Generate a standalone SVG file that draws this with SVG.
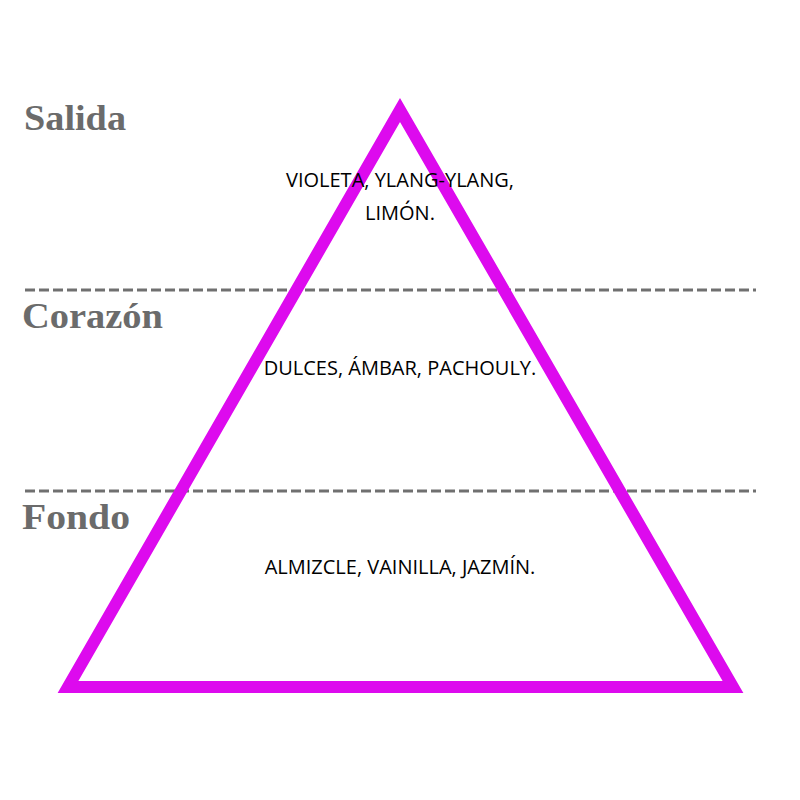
<svg xmlns="http://www.w3.org/2000/svg" width="800" height="800" viewBox="0 0 800 800">
<style>
.lbl{font-family:"Liberation Serif",serif;font-weight:bold;font-size:36px;fill:#6b6b6b}
.txt{font-family:"Open Sans","Noto Sans",sans-serif;font-size:20px;fill:#000;text-anchor:middle}
.dash{stroke:#707070;stroke-width:3;stroke-dasharray:10 4;fill:none}
</style>
<rect width="800" height="800" fill="#fff"/>
<g id="connectors">
<line class="dash" x1="25" y1="290" x2="756" y2="290"/>
<line class="dash" x1="25" y1="491" x2="756" y2="491"/>
</g>
<g id="pyramid">
<polygon points="400,110 68,687 733,687" fill="none" stroke="#dd0aee" stroke-width="12" stroke-linejoin="miter"/>
</g>
<g id="salida">
<text class="lbl" x="24" y="130" textLength="102" lengthAdjust="spacingAndGlyphs">Salida</text>
<text class="txt" x="400" y="187">VIOLETA, YLANG-YLANG,</text>
<text class="txt" x="400" y="220">LIMÓN.</text>
</g>
<g id="corazon">
<text class="lbl" x="22" y="328" textLength="141" lengthAdjust="spacingAndGlyphs">Corazón</text>
<text class="txt" x="400" y="375">DULCES, ÁMBAR, PACHOULY.</text>
</g>
<g id="fondo">
<text class="lbl" x="22" y="529" textLength="108" lengthAdjust="spacingAndGlyphs">Fondo</text>
<text class="txt" x="400" y="574">ALMIZCLE, VAINILLA, JAZMÍN.</text>
</g>
</svg>
